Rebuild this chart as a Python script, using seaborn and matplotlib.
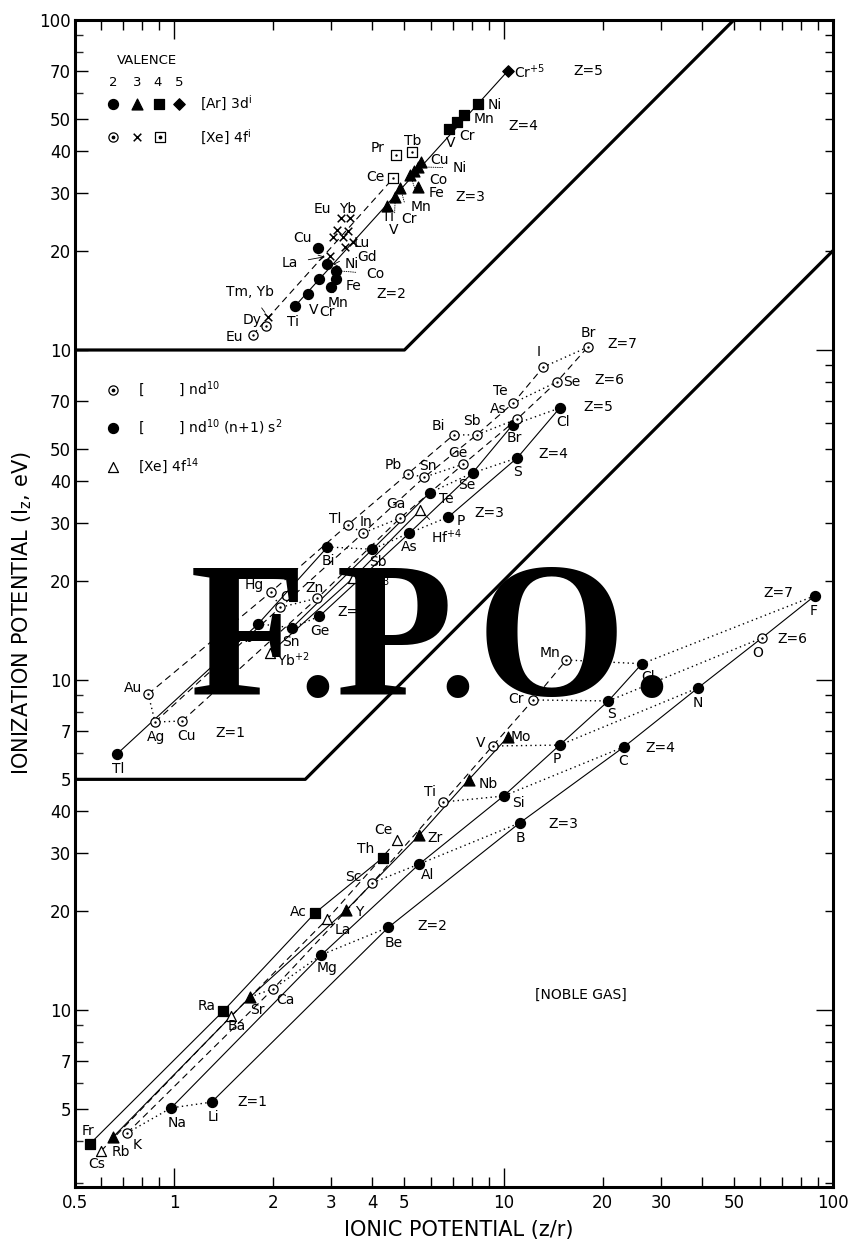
import numpy as np
import pandas as pd
import matplotlib
matplotlib.use("Agg")
import matplotlib.pyplot as plt
import seaborn as sns
from matplotlib.ticker import FixedLocator, FixedFormatter, NullFormatter, LogLocator, FuncFormatter

W, H, DPI = 855, 1244, 100

# ---------------------------------------------------------------------------
# Ionic potential (z/r) and ionization potential (I_z, eV) of cations.
# Three blocks share the log axis; each block is shifted up by a decade.
# ---------------------------------------------------------------------------

# Block 1 (top): [Ar]3d^i ions (filled) and [Xe]4f^i ions (open / cross)
trans_ion = ["Cr5+", "Ni4+", "Mn4+", "Cr4+", "V4+",
             "Ti3+", "V3+", "Cr3+", "Mn3+", "Fe3+", "Co3+", "Ni3+", "Cu3+",
             "Ti2+", "V2+", "Cr2+", "Mn2+", "Fe2+", "Co2+", "Ni2+", "Cu2+",
             "Eu2+", "Dy2+", "TmYb",
             "Eu3+", "Yb3+", "Sm3+", "Tm3+", "Dy3+", "Er3+", "Lu3+", "Gd3+", "La3+",
             "Ce4+", "Pr4+", "Tb4+"]
trans_zr = [10.3, 8.39, 7.56, 7.20, 6.85,
            4.44, 4.69, 4.86, 5.21, 5.48, 5.33, 5.51, 5.63,
            2.33, 2.55, 2.76, 3.00, 3.09, 3.11, 2.92, 2.74,
            1.73, 1.90, 1.93,
            3.20, 3.43, 3.13, 3.38, 3.04, 3.26, 3.50, 3.31, 2.98,
            4.63, 4.73, 5.29]
trans_ip = [70.1, 55.7, 51.5, 49.1, 46.7,
            27.3, 29.1, 31.0, 33.9, 31.2, 34.9, 35.9, 37.1,
            13.6, 14.8, 16.4, 15.5, 16.4, 17.4, 18.2, 20.4,
            11.1, 11.8, 12.6,
            25.1, 25.1, 23.1, 22.9, 22.0, 22.0, 21.3, 20.5, 19.3,
            33.2, 39.0, 39.8]
trans_kind = (["diamond"] + ["square"] * 4 + ["triangle"] * 8 + ["circle"] * 8
              + ["open_circle"] * 2 + ["cross"] * 10 + ["open_square"] * 3)

# Block 2 (middle): nd10 (open), nd10(n+1)s2 (filled), [Xe]4f14 (open triangle)
d10_ion = ["Tl+", "Au+", "Ag+", "Cu+",
           "Hg2+", "Cd2+", "Zn2+", "Ge2+", "Pb2+", "Sn2+", "Yb2+",
           "Lu3+", "Tl3+", "In3+", "Ga3+", "Bi3+", "Sb3+", "As3+", "P3+",
           "Hf4+", "Pb4+", "Sn4+", "Ge4+", "Te4+", "Se4+", "S4+",
           "Bi5+", "Sb5+", "As5+", "Br5+", "Cl5+",
           "Te6+", "Se6+", "I7+", "Br7+"]
d10_zr = [0.671, 0.834, 0.875, 1.057,
          1.97, 2.10, 2.72, 2.76, 1.80, 2.28, 1.96,
          3.50, 3.36, 3.75, 4.86, 2.92, 4.00, 5.18, 6.80,
          5.59, 5.11, 5.75, 7.55, 5.96, 8.05, 11.0,
          7.05, 8.28, 11.0, 10.65, 14.8,
          10.7, 14.5, 13.2, 18.0]
d10_ip = [5.97, 9.07, 7.46, 7.51,
          18.5, 16.6, 17.7, 15.6, 14.8, 14.4, 12.1,
          20.4, 29.5, 27.9, 31.0, 25.3, 24.9, 27.9, 31.2,
          32.7, 42.1, 41.2, 45.1, 36.9, 42.4, 47.1,
          55.3, 55.3, 61.8, 59.3, 66.7,
          69.1, 80.0, 88.8, 102.0]
d10_kind = ["circle", "open_circle", "open_circle", "open_circle",
            "open_circle", "open_circle", "open_circle", "circle", "circle", "circle", "open_triangle",
            "open_triangle", "open_circle", "open_circle", "open_circle", "circle", "circle", "circle", "circle",
            "open_triangle", "open_circle", "open_circle", "open_circle", "circle", "circle", "circle",
            "open_circle", "open_circle", "open_circle", "circle", "circle",
            "open_circle", "open_circle", "open_circle", "open_circle"]

# Block 3 (bottom): noble-gas configuration ions
noble_ion = ["Fr+", "Cs+", "Rb+", "K+", "Na+", "Li+",
             "Ra2+", "Ba2+", "Sr2+", "Ca2+", "Mg2+", "Be2+",
             "Ac3+", "La3+", "Y3+", "Sc3+", "Al3+", "B3+",
             "Th4+", "Ce4+", "Zr4+", "Ti4+", "Si4+", "C4+",
             "Nb5+", "V5+", "P5+", "N5+",
             "Mo6+", "Cr6+", "S6+", "O6+",
             "Mn7+", "Cl7+", "F7+"]
noble_zr = [0.555, 0.600, 0.652, 0.720, 0.979, 1.30,
            1.41, 1.49, 1.70, 2.00, 2.80, 4.47,
            2.68, 2.92, 3.33, 4.00, 5.55, 11.2,
            4.29, 4.76, 5.55, 6.57, 10.0, 23.2,
            7.83, 9.26, 14.8, 38.9,
            10.3, 12.3, 20.8, 60.8,
            15.5, 26.3, 88.1]
noble_ip = [3.93, 3.74, 4.12, 4.24, 5.05, 5.26,
            9.93, 9.59, 10.95, 11.6, 14.7, 17.8,
            19.7, 18.9, 20.1, 24.3, 27.7, 36.9,
            28.9, 32.7, 33.9, 42.7, 44.5, 62.7,
            49.8, 63.1, 63.5, 94.6,
            67.2, 87.0, 86.4, 134.0,
            115.0, 112.0, 180.0]
noble_kind = ["square", "open_triangle", "triangle", "open_circle", "circle", "circle",
              "square", "open_triangle", "triangle", "open_circle", "circle", "circle",
              "square", "open_triangle", "triangle", "open_circle", "circle", "circle",
              "square", "open_triangle", "triangle", "open_circle", "circle", "circle",
              "triangle", "open_circle", "circle", "circle",
              "triangle", "open_circle", "circle", "open_circle",
              "open_circle", "circle", "circle"]

# vertical shift of each block on the shared log axis
BLOCK_SHIFT = {"trans": 100.0, "d10": 10.0, "noble": 1.0}

# block separators (in shifted units): flat floor, then a z/r-proportional ramp
sep_mid_x = [0.5, 2.5, 100.0]
sep_mid_y = [50.0, 50.0, 2000.0]
sep_top_x = [0.5, 5.0, 50.0]
sep_top_y = [1000.0, 1000.0, 10000.0]

# connecting lines (ion sequences) and their styles
trans_lines = [(["Ti2+", "Cr5+"], "solid"), (["Eu2+", "Ce4+"], "dashed")]
d10_lines = [
    (["Au+", "Hg2+", "Tl3+", "Pb4+", "Bi5+"], "dashed"),
    (["Ag+", "Cd2+", "In3+", "Sn4+", "Sb5+", "Te6+", "I7+"], "dashed"),
    (["Cu+", "Zn2+", "Ga3+", "Ge4+", "As5+", "Se6+", "Br7+"], "dashed"),
    (["Tl+", "Pb2+", "Bi3+"], "solid"),
    (["Sn2+", "Sb3+", "Te4+"], "solid"),
    (["Ge2+", "As3+", "Se4+", "Br5+"], "solid"),
    (["P3+", "S4+", "Cl5+"], "solid"),
    (["Yb2+", "Lu3+", "Hf4+"], "solid"),
    (["Au+", "Ag+", "Cu+"], "dotted"),
    (["Hg2+", "Cd2+", "Zn2+"], "dotted"),
    (["Pb2+", "Sn2+", "Ge2+"], "dotted"),
    (["Tl3+", "In3+", "Ga3+"], "dotted"),
    (["Bi3+", "Sb3+", "As3+", "P3+"], "dotted"),
    (["Pb4+", "Sn4+", "Ge4+"], "dotted"),
    (["Te4+", "Se4+", "S4+"], "dotted"),
    (["Bi5+", "Sb5+", "As5+"], "dotted"),
    (["Br5+", "Cl5+"], "dotted"),
    (["Te6+", "Se6+"], "dotted"),
    (["I7+", "Br7+"], "dotted"),
]
noble_lines = [
    (["Li+", "Be2+", "B3+", "C4+", "N5+", "O6+", "F7+"], "solid"),
    (["Na+", "Mg2+", "Al3+", "Si4+", "P5+", "S6+", "Cl7+"], "solid"),
    (["K+", "Ca2+", "Sc3+", "Ti4+", "V5+", "Cr6+", "Mn7+"], "dashed"),
    (["Rb+", "Sr2+", "Y3+", "Zr4+", "Nb5+", "Mo6+"], "solid"),
    (["Cs+", "Ba2+", "La3+", "Ce4+"], "dashed"),
    (["Fr+", "Ra2+", "Ac3+", "Th4+"], "solid"),
    (["K+", "Na+", "Li+"], "dotted"),
    (["Sr2+", "Ca2+", "Mg2+", "Be2+"], "dotted"),
    (["Sc3+", "Al3+", "B3+"], "dotted"),
    (["Ti4+", "Si4+", "C4+"], "dotted"),
    (["V5+", "P5+", "N5+"], "dotted"),
    (["Cr6+", "S6+", "O6+"], "dotted"),
    (["Mn7+", "Cl7+", "F7+"], "dotted"),
]

# tick values of each block (labels show block units)
noble_ticks = [5, 7, 10, 20, 30, 40]
noble_minor = [3, 4, 6, 8, 9]
d10_ticks = [5, 7, 10, 20, 30, 40, 50, 70]
d10_minor = [6, 8, 9]
trans_ticks = [10, 20, 30, 40, 50, 70, 100]
trans_minor = [60, 80, 90]
x_labels = [0.5, 1, 2, 3, 4, 5, 10, 20, 30, 50, 100]

# ---------------------------------------------------------------------------
sns.set_theme(style="white")
plt.rcParams["font.family"] = ["DejaVu Sans"]
plt.rcParams["mathtext.default"] = "regular"

def block_frame(ion, zr, ip, kind, block):
    df = pd.DataFrame({"ion": ion, "zr": zr, "ip": ip, "kind": kind})
    df["block"] = block
    df["y"] = df["ip"] * BLOCK_SHIFT[block]
    return df

points = pd.concat([
    block_frame(trans_ion, trans_zr, trans_ip, trans_kind, "trans"),
    block_frame(d10_ion, d10_zr, d10_ip, d10_kind, "d10"),
    block_frame(noble_ion, noble_zr, noble_ip, noble_kind, "noble"),
], ignore_index=True)

STYLE = {
    "circle":        dict(marker="o", s=52, fc="black", dot=False),
    "open_circle":   dict(marker="o", s=44, fc="white", dot=True),
    "triangle":      dict(marker="^", s=62, fc="black", dot=False),
    "open_triangle": dict(marker="^", s=52, fc="white", dot=False),
    "square":        dict(marker="s", s=46, fc="black", dot=False),
    "open_square":   dict(marker="s", s=46, fc="white", dot=True),
    "diamond":       dict(marker="D", s=34, fc="black", dot=False),
    "cross":         dict(marker="x", s=30, fc="black", dot=False),
}
LINESTYLE = {"solid": "-", "dashed": (0, (6, 4)), "dotted": (0, (1, 2.4))}

fig = plt.figure(figsize=(W / DPI, H / DPI), dpi=DPI)
fig.patch.set_facecolor("white")
ax = fig.add_axes([75 / W, 1 - 1187 / H, (833 - 75) / W, (1187 - 20) / H])
ax.set_xscale("log")
ax.set_yscale("log")
ylo = 10 ** (4 - 1167 / 330)
ax.set_xlim(0.5, 100)
ax.set_ylim(ylo, 1e4)

# block separators
for sx, sy in [(sep_mid_x, sep_mid_y), (sep_top_x, sep_top_y)]:
    sns.lineplot(x=sx, y=sy, sort=False, estimator=None, ax=ax, color="black",
                 linewidth=2.3, legend=False, zorder=4)

# connecting lines
for block, lines in [("trans", trans_lines), ("d10", d10_lines), ("noble", noble_lines)]:
    sub = points[points.block == block].set_index("ion")
    for seq, style in lines:
        seg = sub.loc[seq]
        sns.lineplot(x=seg["zr"].values, y=seg["y"].values, sort=False, estimator=None,
                     ax=ax, color="black", linewidth=0.8 if style != "dotted" else 1.0,
                     linestyle=LINESTYLE[style], legend=False, zorder=3)

# markers
for kind, st in STYLE.items():
    sub = points[points.kind == kind]
    if sub.empty:
        continue
    if st["marker"] == "x":
        sns.scatterplot(data=sub, x="zr", y="y", marker="x", s=st["s"], color="black",
                        linewidth=1.1, ax=ax, legend=False, zorder=5)
    else:
        sns.scatterplot(data=sub, x="zr", y="y", marker=st["marker"], s=st["s"],
                        color=st["fc"], edgecolor="black", linewidth=0.9, ax=ax,
                        legend=False, zorder=5)
    if st["dot"]:
        sns.scatterplot(data=sub, x="zr", y="y", marker="o", s=3, color="black",
                        linewidth=0, ax=ax, legend=False, zorder=6)

ax.set_xlabel("")
ax.set_ylabel("")

# ---- axes, ticks ----
for sp in ax.spines.values():
    sp.set_color("black")
    sp.set_linewidth(2.2)
    sp.set_visible(True)

major_pos = ([v * BLOCK_SHIFT["noble"] for v in noble_ticks]
             + [v * BLOCK_SHIFT["d10"] for v in d10_ticks]
             + [v * BLOCK_SHIFT["trans"] for v in trans_ticks])
major_lab = [str(v) for v in noble_ticks + d10_ticks + trans_ticks]
minor_pos = ([v * BLOCK_SHIFT["noble"] for v in noble_minor]
             + [v * BLOCK_SHIFT["d10"] for v in d10_minor]
             + [v * BLOCK_SHIFT["trans"] for v in trans_minor])
ax.yaxis.set_major_locator(FixedLocator(major_pos))
ax.yaxis.set_major_formatter(FixedFormatter(major_lab))
ax.yaxis.set_minor_locator(FixedLocator(minor_pos))
ax.yaxis.set_minor_formatter(NullFormatter())
ax.tick_params(axis="y", which="major", direction="in", length=9, width=1.0,
               left=True, right=False, labelsize=12, pad=3, colors="black")
ax.tick_params(axis="y", which="minor", direction="in", length=6, width=1.0,
               left=True, right=False)

x_minor = [0.5, 0.6, 0.7, 0.8, 0.9] + list(range(2, 10)) + list(range(20, 101, 10))
ax.xaxis.set_major_locator(FixedLocator([1, 10]))
ax.xaxis.set_major_formatter(FixedFormatter(["1", "10"]))
ax.xaxis.set_minor_locator(FixedLocator(x_minor))

def xfmt(v, pos):
    for lab in x_labels:
        if abs(v - lab) < 1e-6 * lab and lab not in (1, 10):
            return "0.5" if lab == 0.5 else str(int(lab))
    return ""

ax.xaxis.set_minor_formatter(FuncFormatter(xfmt))
ax.tick_params(axis="x", which="major", direction="in", length=14, width=1.0,
               top=True, bottom=True, labelsize=12, pad=5, colors="black")
ax.tick_params(axis="x", which="minor", direction="in", length=7, width=1.0,
               top=True, bottom=True, labelsize=12, pad=5, colors="black")
ax.grid(False)

# right spine carries the plain log ticks of the lower block
ax_r = ax.twinx()
ax_r.set_yscale("log")
ax_r.set_ylim(ylo, 1e4)
ax_r.yaxis.set_major_locator(LogLocator(base=10, numticks=10))
ax_r.yaxis.set_minor_locator(LogLocator(base=10, subs=np.arange(2, 10), numticks=20))
ax_r.yaxis.set_major_formatter(NullFormatter())
ax_r.yaxis.set_minor_formatter(NullFormatter())
ax_r.tick_params(axis="y", which="major", direction="in", length=12, width=1.0,
                 right=True, left=False, labelright=False, colors="black")
ax_r.tick_params(axis="y", which="minor", direction="in", length=6, width=1.0,
                 right=True, left=False, labelright=False, colors="black")
for sp in ax_r.spines.values():
    sp.set_visible(False)
ax_r.set_ylabel("")
ax_r.grid(False)

# ---- text helpers (positions in figure pixels, origin top-left) ----
def put(txt, px, py, size=10, ha="center", **kw):
    fig.text(px / W, 1 - py / H, txt, ha=ha, va="center", fontsize=size,
             color="black", zorder=8, **kw)

lookup = points.set_index(["block", "ion"])

def lead(txt, block, ion, px, py, style="-", arrow=False, size=10):
    row = lookup.loc[(block, ion)]
    ax.annotate(txt, xy=(row["zr"], row["y"]), xycoords="data",
                xytext=(px / W, 1 - py / H), textcoords="figure fraction",
                ha="center", va="center", fontsize=size, color="black", zorder=8,
                arrowprops=dict(arrowstyle="->" if arrow else "-", lw=0.6,
                                linestyle=style, color="black",
                                shrinkA=5, shrinkB=4))

def key(kind, px, py):
    st = STYLE[kind]
    kw = dict(transform=fig.transFigure, clip_on=False, zorder=9)
    if st["marker"] == "x":
        ax.scatter([px / W], [1 - py / H], marker="x", s=st["s"], color="black",
                   linewidths=1.1, **kw)
    else:
        ax.scatter([px / W], [1 - py / H], marker=st["marker"], s=st["s"],
                   facecolor=st["fc"], edgecolor="black", linewidths=0.9, **kw)
    if st["dot"]:
        ax.scatter([px / W], [1 - py / H], marker="o", s=3, color="black", **kw)

# ---- top block labels ----
put("Cr$^{+5}$", 530, 72)
put("Z=5", 588, 71)
for t, px, py in [("Ni", 495, 105), ("Mn", 484, 119), ("Cr", 467, 136), ("V", 451, 143),
                  ("Cu", 439, 160), ("Co", 438, 180), ("Fe", 436, 193), ("Ti", 388, 217),
                  ("Ce", 375, 177), ("Pr", 378, 148), ("Tb", 413, 141),
                  ("Eu", 322, 209), ("Yb", 348, 209), ("Lu", 362, 243), ("Gd", 367, 257),
                  ("Fe", 353, 286), ("V", 314, 310), ("Cr", 327, 312), ("Ti", 293, 322),
                  ("Cu", 302, 238), ("Dy", 252, 320), ("Eu", 234, 337)]:
    put(t, px, py)
put("Z=4", 523, 126)
put("Z=3", 470, 197)
put("Z=2", 391, 294)
lead("La", "trans", "La3+", 290, 263, arrow=True)
lead("Ni", "trans", "Ni2+", 352, 264, arrow=True)
lead("Co", "trans", "Co2+", 375, 274, style=":")
lead("Mn", "trans", "Mn2+", 338, 303)
lead("Ni", "trans", "Ni3+", 460, 168, style=":")
lead("Mn", "trans", "Mn3+", 421, 207, style=":")
lead("Cr", "trans", "Cr3+", 409, 219, style=":")
lead("V", "trans", "V3+", 394, 230, style=":")
lead("Tm, Yb", "trans", "TmYb", 250, 292)

# top legend
put("VALENCE", 147, 60, size=9.5)
for t, px in zip(["2", "3", "4", "5"], [113, 137, 158, 179]):
    put(t, px, 82, size=9.5)
for kind, px in zip(["circle", "triangle", "square", "diamond"], [113, 137, 159, 179]):
    key(kind, px, 104)
for kind, px in zip(["open_circle", "cross", "open_square"], [113, 137, 160]):
    key(kind, px, 137)
put("[Ar] 3d$^{i}$", 200, 103, ha="left")
put("[Xe] 4f$^{i}$", 200, 137, ha="left")

# ---- middle block labels ----
for t, px, py in [("Tl", 118, 769), ("Au", 133, 688), ("Ag", 156, 737), ("Cu", 186, 736),
                  ("Z=1", 230, 733),
                  ("Hg", 254, 585), ("Cd", 290, 597), ("Zn", 314, 588), ("Ge", 320, 631),
                  ("Pb", 245, 638), ("Sn", 291, 642), ("Yb$^{+2}$", 293, 660), ("Z=2", 352, 612),
                  ("Lu$^{+3}$", 374, 585),
                  ("Tl", 335, 519), ("In", 366, 522), ("Ga", 396, 504), ("Bi", 328, 561),
                  ("Sb", 378, 562), ("As", 409, 547), ("P", 461, 521), ("Z=3", 489, 513),
                  ("Pb", 393, 465), ("Sn", 428, 466), ("Ge", 458, 453), ("Te", 446, 499),
                  ("Se", 467, 485), ("S", 517, 472), ("Z=4", 553, 454),
                  ("Bi", 438, 426), ("Sb", 472, 421), ("As", 498, 409), ("Br", 514, 438),
                  ("Cl", 563, 422), ("Z=5", 598, 407),
                  ("Te", 500, 391), ("Se", 572, 382), ("Z=6", 609, 380),
                  ("I", 539, 352), ("Br", 588, 333), ("Z=7", 622, 344)]:
    put(t, px, py)
lead("Hf$^{+4}$", "d10", "Hf4+", 447, 537)

# middle legend
key("open_circle", 113, 390)
put("[        ] nd$^{10}$", 138, 389, ha="left")
key("circle", 113, 428)
put("[        ] nd$^{10}$ (n+1) s$^{2}$", 138, 427, ha="left")
key("open_triangle", 113, 467)
put("[Xe] 4f$^{14}$", 138, 466, ha="left")

# ---- bottom block labels ----
for t, px, py in [("Fr", 88, 1131), ("Cs", 97, 1164), ("Rb", 121, 1152), ("K", 137, 1145),
                  ("Na", 177, 1123), ("Li", 213, 1117), ("Z=1", 252, 1102),
                  ("Ra", 207, 1006), ("Ba", 237, 1026), ("Sr", 257, 1010), ("Ca", 285, 1000),
                  ("Mg", 327, 968), ("Be", 394, 943), ("Z=2", 432, 926),
                  ("Ac", 298, 912), ("La", 343, 930), ("Y", 359, 912), ("Sc", 353, 877),
                  ("Al", 428, 875), ("B", 520, 838), ("Z=3", 563, 824),
                  ("Th", 366, 849), ("Ce", 383, 830), ("Zr", 435, 838), ("Ti", 430, 792),
                  ("Si", 518, 803), ("C", 623, 761), ("Z=4", 660, 748),
                  ("Nb", 488, 784), ("V", 481, 743), ("P", 557, 759), ("N", 698, 703),
                  ("Mo", 521, 737), ("Cr", 516, 699), ("S", 611, 714), ("O", 758, 653),
                  ("Z=6", 792, 639),
                  ("Mn", 550, 653), ("Cl", 648, 677), ("F", 814, 611), ("Z=7", 778, 593)]:
    put(t, px, py)
put("[NOBLE GAS]", 581, 995)

# ---- axis titles ----
put("IONIC POTENTIAL (z/r)", 459, 1230, size=15)
fig.text(22 / W, 1 - 613 / H, "IONIZATION POTENTIAL (I$_{z}$, eV)", rotation=90,
         ha="center", va="center", fontsize=15, color="black")

# ---- "F.P.O." overprint ----
fpo_bold = dict(family="Liberation Serif", weight="bold", fontsize=138, color="black",
                va="baseline", zorder=20)
fpo_dot = dict(family="Liberation Serif", weight="normal", fontsize=138, color="black",
               va="baseline", ha="center", zorder=20)
base = 1 - 695 / H
fig.text(190 / W, base, "F", ha="left", **fpo_bold)
fig.text(317 / W, base, ".", **fpo_dot)
fig.text(336 / W, base, "P", ha="left", **fpo_bold)
fig.text(457 / W, base, ".", **fpo_dot)
fig.text(477 / W, base, "O", ha="left", **fpo_bold)
fig.text(651 / W, base, ".", **fpo_dot)

fig.savefig("out.png", dpi=DPI, facecolor="white")
